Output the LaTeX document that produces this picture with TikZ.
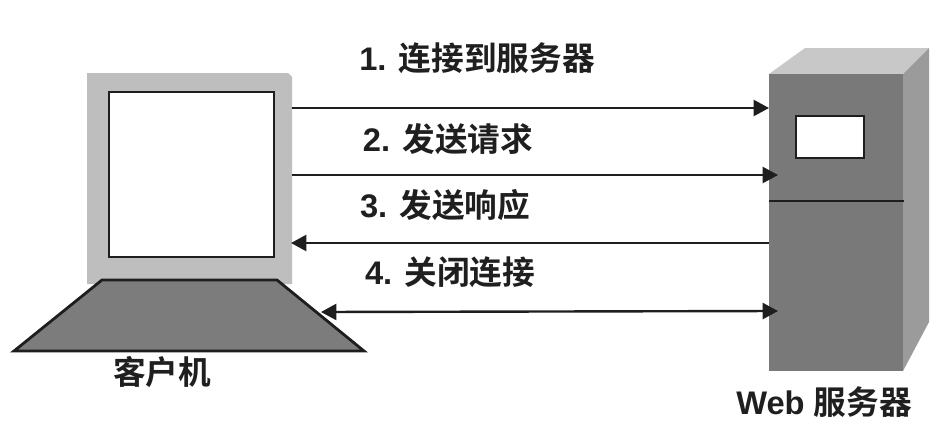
\documentclass[tikz,border=0pt]{standalone}
\usepackage{fontspec}
\setmainfont{Liberation Sans}
\newfontfamily\cjk{Noto Sans CJK SC}[BoldFont={* Bold}]
\usetikzlibrary{arrows.meta}
\definecolor{monitorg}{HTML}{BEBEBE}
\definecolor{keyg}{HTML}{7C7C7C}
\definecolor{frontg}{HTML}{797979}
\definecolor{sideg}{HTML}{9B9B9B}
\definecolor{topg}{HTML}{C8C8C8}
\definecolor{lineg}{HTML}{1E1E1E}
\tikzset{
  x=0.75pt,y=-0.75pt,
  conn/.style={draw=lineg,line width=1.8pt},
  onetip/.style={-{Triangle[length=11.5pt,width=12pt]}},
  twotip/.style={{Triangle[length=11.5pt,width=12pt]}-{Triangle[length=11.5pt,width=12pt]}},
  lab/.style={font=\fontsize{24.5pt}{26pt}\selectfont\bfseries,text=black!88,inner sep=0pt,anchor=center},
  edgeb/.style={draw=lineg,line width=2.1pt}
}
\begin{document}
\begin{tikzpicture}
\useasboundingbox (0,0) rectangle (949,432);
\fill[white] (0,0) rectangle (949,432);
% client
\fill[monitorg] (87,73) -- (288,73) -- (292,77) -- (292,284) -- (87,284) -- cycle;
\draw[edgeb,fill=white] (109,92) rectangle (274,257);
\draw[edgeb,fill=keyg,line join=miter] (102,280) -- (277,280) -- (364,351) -- (14,351) -- cycle;
% server
\fill[topg] (769,74) -- (805,48) -- (929,48) -- (903,74) -- cycle;
\fill[sideg] (903,74) -- (929,48) -- (929,322) -- (903,371) -- cycle;
\fill[frontg] (769,74) rectangle (903,371);
\draw[edgeb,fill=white] (796,116) rectangle (864,158);
\draw[edgeb] (769,201) -- (904,201);
% anchors
\coordinate (a1) at (292,108); \coordinate (b1) at (769,108);
\coordinate (a2) at (292,175); \coordinate (b2) at (778,175);
\coordinate (a3) at (769,243); \coordinate (b3) at (291,243);
\coordinate (a4) at (321,312); \coordinate (b4) at (778,311);
\draw[conn,onetip] (a1) -- (b1);
\draw[conn,onetip] (a2) -- (b2);
\draw[conn,onetip] (a3) -- (b3);
\draw[conn,twotip] (a4) -- (b4);
% labels
\node[lab] (l1) at (477,58) {1. {\cjk 连接到服务器}};
\node[lab] (l2) at (448,139) {2. {\cjk 发送请求}};
\node[lab] (l3) at (445,205) {3. {\cjk 发送响应}};
\node[lab] (l4) at (450,272) {4. {\cjk 关闭连接}};
\node[lab] (c) at (162,372) {\cjk 客户机};
\node[lab] (s) at (824,402) {Web {\cjk 服务器}};
\end{tikzpicture}
\end{document}
